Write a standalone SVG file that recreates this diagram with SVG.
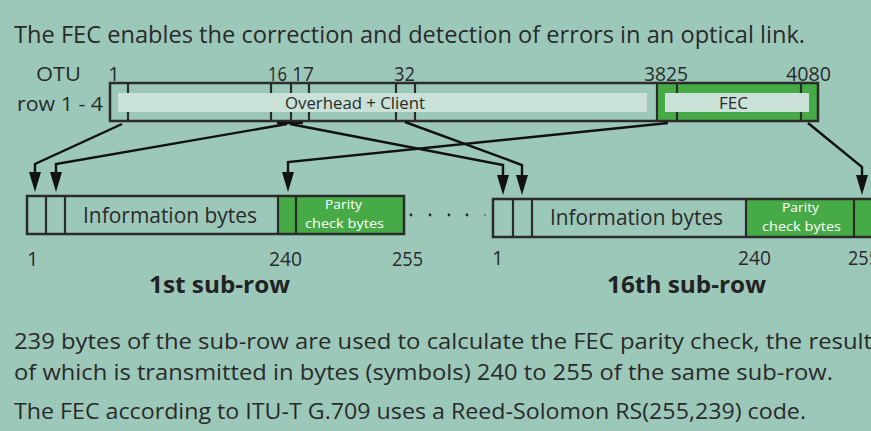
<svg xmlns="http://www.w3.org/2000/svg" width="871" height="431" viewBox="0 0 871 431">
<defs>
<style>
.t{font-family:"Open Sans","Noto Sans","Liberation Sans",sans-serif;fill:#2a2a2a}
.box{fill:none;stroke:#2b2b2b;stroke-width:2.5}
.div{stroke:#2b2b2b;stroke-width:2.2}
.grn{fill:#46ab46}
.lite{fill:#c9e1d7}
.w{font-family:"Open Sans","Noto Sans","Liberation Sans",sans-serif;fill:#ffffff;font-size:13.5px}
.b{font-family:"Open Sans","Noto Sans","Liberation Sans",sans-serif;fill:#222;font-weight:bold;font-size:23px}
.con{fill:none;stroke:#111;stroke-width:2.4;stroke-linejoin:miter}
</style>
<marker id="ah" viewBox="0 -6 20 12" refX="0" refY="0" markerWidth="20" markerHeight="12" markerUnits="userSpaceOnUse" orient="auto">
<path d="M0,-6 L20,0 L0,6 z" fill="#111"/>
</marker>
</defs>
<rect width="871" height="431" fill="#9cc8ba"/>

<text class="t" x="14" y="43" font-size="23.5" textLength="791" lengthAdjust="spacingAndGlyphs">The FEC enables the correction and detection of errors in an optical link.</text>

<g id="otu">
<text class="t" x="36" y="81" font-size="20" textLength="45" lengthAdjust="spacingAndGlyphs">OTU</text>
<text class="t" x="17" y="111" font-size="20" textLength="86" lengthAdjust="spacingAndGlyphs">row 1 - 4</text>
<text class="t" x="114" y="81" font-size="20" text-anchor="middle">1</text>
<text class="t" x="268" y="81" font-size="20" textLength="19" lengthAdjust="spacingAndGlyphs">16</text>
<text class="t" x="292" y="81" font-size="20" textLength="22" lengthAdjust="spacingAndGlyphs">17</text>
<text class="t" x="394" y="81" font-size="20" textLength="21" lengthAdjust="spacingAndGlyphs">32</text>
<text class="t" x="644" y="81" font-size="20" textLength="44" lengthAdjust="spacingAndGlyphs">3825</text>
<text class="t" x="786" y="81" font-size="20" textLength="45" lengthAdjust="spacingAndGlyphs">4080</text>
<rect class="grn" x="657" y="83" width="161" height="38"/>
<line class="div" x1="128" y1="83" x2="128" y2="121"/>
<line class="div" x1="271" y1="83" x2="271" y2="121"/>
<line class="div" x1="291" y1="83" x2="291" y2="121"/>
<line class="div" x1="309" y1="83" x2="309" y2="121"/>
<line class="div" x1="396" y1="83" x2="396" y2="121"/>
<line class="div" x1="415" y1="83" x2="415" y2="121"/>
<line class="div" x1="677" y1="83" x2="677" y2="121"/>
<line class="div" x1="801" y1="83" x2="801" y2="121"/>
<rect class="lite" x="118" y="93" width="529" height="19"/>
<rect class="lite" x="665" y="93" width="144" height="19"/>
<rect class="box" x="110" y="83" width="708" height="38"/>
<line class="div" x1="657" y1="83" x2="657" y2="121" stroke-width="2.6"/>
<text class="t" x="285" y="109" font-size="16" textLength="140" lengthAdjust="spacingAndGlyphs">Overhead + Client</text>
<text class="t" x="719" y="109" font-size="16" textLength="29" lengthAdjust="spacingAndGlyphs">FEC</text>
</g>

<g id="subrow1">
<rect class="grn" x="278" y="196" width="126" height="38"/>
<rect class="box" x="27" y="196" width="377" height="38"/>
<line class="div" x1="46" y1="196" x2="46" y2="234"/>
<line class="div" x1="65" y1="196" x2="65" y2="234"/>
<line class="div" x1="278" y1="196" x2="278" y2="234"/>
<line class="div" x1="296" y1="196" x2="296" y2="234"/>
<text class="t" x="83" y="223" font-size="21.5" textLength="174" lengthAdjust="spacingAndGlyphs">Information bytes</text>
<text class="w" x="325" y="209" textLength="37" lengthAdjust="spacingAndGlyphs">Parity</text>
<text class="w" x="305" y="228" textLength="79" lengthAdjust="spacingAndGlyphs">check bytes</text>
<text class="t" x="27" y="266" font-size="20">1</text>
<text class="t" x="269" y="266" font-size="20" textLength="33" lengthAdjust="spacingAndGlyphs">240</text>
<text class="t" x="392" y="266" font-size="20" textLength="31" lengthAdjust="spacingAndGlyphs">255</text>
<text class="b" x="149" y="293" textLength="141" lengthAdjust="spacingAndGlyphs">1st sub-row</text>
</g>

<g id="dots" fill="#2a2a2a">
<circle cx="411" cy="215" r="1.4"/>
<circle cx="430" cy="215" r="1.4"/>
<circle cx="449" cy="215" r="1.4"/>
<circle cx="467" cy="215" r="1.4"/>
<circle cx="485" cy="215" r="1.2" fill="#6a8a80"/>
</g>

<g id="subrow16">
<rect class="grn" x="746" y="199" width="130" height="38"/>
<rect class="box" x="493" y="199" width="390" height="38"/>
<line class="div" x1="513" y1="199" x2="513" y2="237"/>
<line class="div" x1="532" y1="199" x2="532" y2="237"/>
<line class="div" x1="746" y1="199" x2="746" y2="237"/>
<line class="div" x1="854" y1="199" x2="854" y2="237"/>
<text class="t" x="550" y="225" font-size="21.5" textLength="173" lengthAdjust="spacingAndGlyphs">Information bytes</text>
<text class="w" x="782" y="212" textLength="37" lengthAdjust="spacingAndGlyphs">Parity</text>
<text class="w" x="762" y="231" textLength="79" lengthAdjust="spacingAndGlyphs">check bytes</text>
<text class="t" x="492" y="265" font-size="20">1</text>
<text class="t" x="738" y="265" font-size="20" textLength="33" lengthAdjust="spacingAndGlyphs">240</text>
<text class="t" x="848" y="265" font-size="20" textLength="31" lengthAdjust="spacingAndGlyphs">255</text>
<text class="b" x="607" y="293" textLength="159" lengthAdjust="spacingAndGlyphs">16th sub-row</text>
</g>

<g id="connectors">
<path class="con" d="M277,123 L303,123"/>
<path class="con" d="M122,124 L35,164 L35,172" marker-end="url(#ah)"/>
<path class="con" d="M287,124 L56,164 L56,172" marker-end="url(#ah)"/>
<path class="con" d="M290,124 L503,165 L503,175" marker-end="url(#ah)"/>
<path class="con" d="M405,122 L522,165 L522,175" marker-end="url(#ah)"/>
<path class="con" d="M668,123 L288,162 L288,172" marker-end="url(#ah)"/>
<path class="con" d="M808,123 L862,167 L862,175" marker-end="url(#ah)"/>
</g>

<text class="t" x="14" y="349" font-size="22.5" textLength="858" lengthAdjust="spacingAndGlyphs">239 bytes of the sub-row are used to calculate the FEC parity check, the result</text>
<text class="t" x="14" y="380" font-size="22.5" textLength="819" lengthAdjust="spacingAndGlyphs">of which is transmitted in bytes (symbols) 240 to 255 of the same sub-row.</text>
<text class="t" x="14" y="419" font-size="22.5" textLength="792" lengthAdjust="spacingAndGlyphs">The FEC according to ITU-T G.709 uses a Reed-Solomon RS(255,239) code.</text>
</svg>
